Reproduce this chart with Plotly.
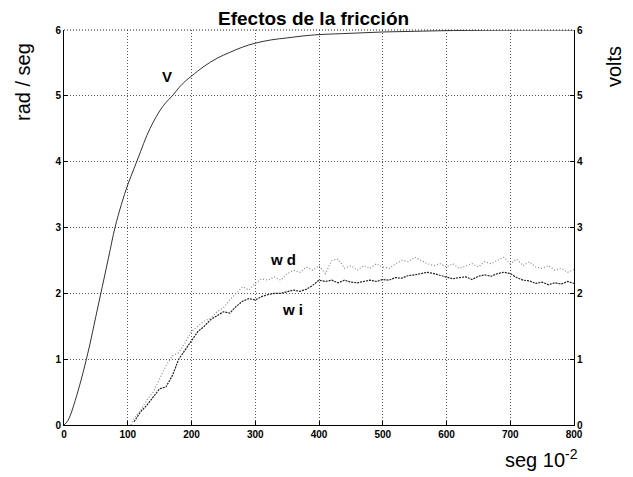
import plotly.graph_objects as go

# ---- data ----
v_x = [0, 5, 10, 20, 30, 40, 50, 60, 70, 80, 90, 100, 110, 120, 130, 140, 150, 160, 170, 180,
       190, 200, 220, 240, 260, 280, 300, 325, 350, 375, 400, 450, 500, 550, 600, 700, 800]
v_y = [0, 0.05, 0.15, 0.45, 0.8, 1.2, 1.65, 2.1, 2.55, 3.0, 3.35, 3.65, 3.9, 4.15, 4.4, 4.6,
       4.77, 4.9, 5.0, 5.12, 5.22, 5.3, 5.45, 5.57, 5.66, 5.74, 5.8, 5.85, 5.88, 5.91, 5.93,
       5.95, 5.97, 5.98, 5.99, 6.0, 6.0]

wd_x = [105] + list(range(110, 801, 10))
wd_y = [0.0, 0.1, 0.22, 0.38, 0.5, 0.7, 0.9, 1.05, 1.1, 1.25, 1.42, 1.5, 1.58, 1.62, 1.72,
        1.78, 1.9, 2.0, 2.1, 2.05, 2.15, 2.22, 2.2, 2.25, 2.2, 2.3, 2.35, 2.32, 2.4, 2.35,
        2.42, 2.3, 2.5, 2.52, 2.38, 2.42, 2.35, 2.42, 2.38, 2.45, 2.4, 2.38, 2.45, 2.5, 2.48,
        2.55, 2.5, 2.45, 2.42, 2.45, 2.4, 2.45, 2.38, 2.42, 2.45, 2.4, 2.48, 2.45, 2.5, 2.55,
        2.45, 2.52, 2.42, 2.48, 2.4, 2.38, 2.42, 2.35, 2.38, 2.32, 2.36]

wi_x = list(range(110, 801, 10))
wi_y = [0.05, 0.2, 0.3, 0.42, 0.55, 0.58, 0.75, 1.0, 1.15, 1.28, 1.42, 1.5, 1.6, 1.66, 1.72,
        1.7, 1.8, 1.88, 1.92, 1.9, 1.95, 1.98, 2.0, 2.0, 2.02, 2.05, 2.03, 2.06, 2.12, 2.2,
        2.18, 2.2, 2.16, 2.2, 2.17, 2.16, 2.18, 2.2, 2.18, 2.21, 2.2, 2.24, 2.23, 2.27, 2.28,
        2.3, 2.32, 2.3, 2.27, 2.25, 2.22, 2.24, 2.25, 2.21, 2.26, 2.28, 2.26, 2.3, 2.32, 2.3,
        2.24, 2.2, 2.19, 2.15, 2.17, 2.13, 2.16, 2.14, 2.18, 2.15]

x_ticks = [0, 100, 200, 300, 400, 500, 600, 700, 800]
y_ticks = [0, 1, 2, 3, 4, 5, 6]

FONT = "Liberation Sans, Arial, sans-serif"
GRID_DASH = "1px,2px"

# screen pixel -> paper coordinate helpers (plot area on screen: x 64..574, y 30..425)
def px(x):
    return (x - 64) / 510

def py(y):
    return (425 - y) / 395

fig = go.Figure()
fig.add_trace(go.Scatter(x=wd_x, y=wd_y, mode="lines",
                         line=dict(color="#8a8a8a", width=1.2, dash="1px,2px"), name="w d"))
fig.add_trace(go.Scatter(x=wi_x, y=wi_y, mode="lines",
                         line=dict(color="#222222", width=1.2, dash="2px,1px"), name="w i"))
fig.add_trace(go.Scatter(x=v_x, y=v_y, mode="lines", yaxis="y2",
                         line=dict(color="#333333", width=1, shape="spline"), name="V"))

axis_common = dict(showline=True, linecolor="black", linewidth=1, ticks="inside",
                   ticklen=4, tickcolor="black",
                   tickfont=dict(family=FONT, size=10, color="black", weight="bold"))

# page body has an 8px margin, so the figure is 8px smaller than the window
fig.update_layout(
    width=625, height=469,
    margin=dict(l=56, r=59, t=22, b=52),
    paper_bgcolor="white", plot_bgcolor="white",
    showlegend=False,
    font=dict(family=FONT, color="black"),
    xaxis=dict(range=[0, 800], tickvals=x_ticks, showgrid=True, gridcolor="#555555",
               griddash=GRID_DASH, gridwidth=1, zeroline=False, **axis_common),
    yaxis=dict(range=[0, 6], tickvals=y_ticks, showgrid=True, gridcolor="#555555",
               griddash=GRID_DASH, gridwidth=1, zeroline=False, **axis_common),
    yaxis2=dict(range=[0, 6], tickvals=y_ticks, overlaying="y", side="right",
                showgrid=False, zeroline=False, **axis_common),
    shapes=[dict(type="line", xref="paper", yref="paper", x0=0, x1=1, y0=1, y1=1,
                 line=dict(color="#222222", width=1, dash=GRID_DASH))],
    annotations=[
        dict(text="Efectos de la fricción", xref="paper", yref="paper",
             x=px(313), y=py(18), xanchor="center", yanchor="middle",
             showarrow=False, font=dict(size=19, family=FONT, weight="bold")),
        dict(text="rad / seg", xref="paper", yref="paper",
             x=px(23), y=py(82), xanchor="center", yanchor="middle",
             textangle=-90, showarrow=False, font=dict(size=20, family=FONT)),
        dict(text="volts", xref="paper", yref="paper",
             x=px(614), y=py(67), xanchor="center", yanchor="middle",
             textangle=-90, showarrow=False, font=dict(size=20, family=FONT)),
        dict(text="seg 10<sup>-2</sup>", xref="paper", yref="paper",
             x=px(580), y=py(458), xanchor="right", yanchor="middle",
             showarrow=False, font=dict(size=20, family=FONT)),
        dict(text="V", x=162, y=5.29, showarrow=False,
             font=dict(size=15, family=FONT, weight="bold")),
        dict(text="w d", x=343, y=2.52, showarrow=False,
             font=dict(size=15, family=FONT, weight="bold")),
        dict(text="w i", x=358, y=1.75, showarrow=False,
             font=dict(size=15, family=FONT, weight="bold")),
    ],
)

fig.write_html("out.html")
